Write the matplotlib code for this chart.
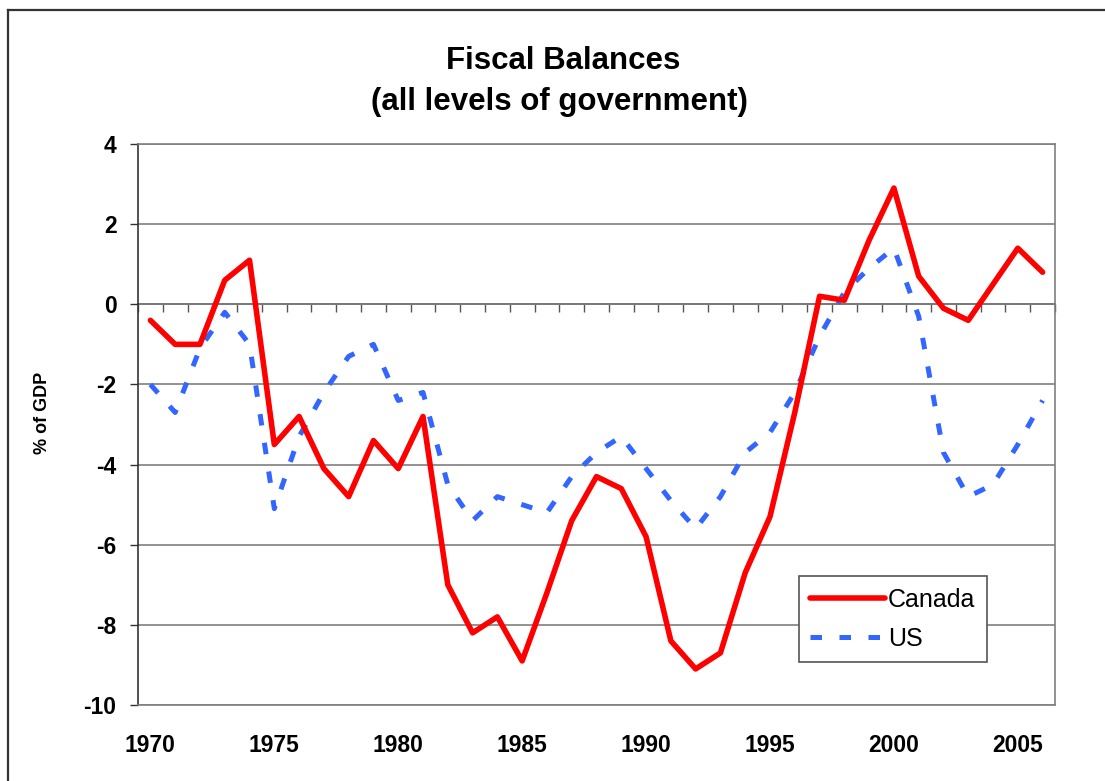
import numpy as np
import matplotlib
matplotlib.use("Agg")
import matplotlib.pyplot as plt
from matplotlib.lines import Line2D

# data (% of GDP)
years = list(range(1970, 2007))
canada = [-0.4, -1.0, -1.0, 0.6, 1.1, -3.5, -2.8, -4.1, -4.8, -3.4,
          -4.1, -2.8, -7.0, -8.2, -7.8, -8.9, -7.2, -5.4, -4.3, -4.6,
          -5.8, -8.4, -9.1, -8.7, -6.7, -5.3, -2.7, 0.2, 0.1, 1.6,
          2.9, 0.7, -0.1, -0.4, 0.5, 1.4, 0.8]
us = [-2.0, -2.7, -1.1, -0.2, -1.0, -5.1, -3.3, -2.2, -1.3, -1.0,
      -2.4, -2.2, -4.5, -5.4, -4.8, -5.0, -5.2, -4.3, -3.7, -3.3,
      -4.1, -4.9, -5.6, -4.8, -3.7, -3.2, -2.2, -0.8, 0.3, 0.9,
      1.4, -0.3, -3.7, -4.8, -4.5, -3.5, -2.4]
year_labels = [1970, 1975, 1980, 1985, 1990, 1995, 2000, 2005]
y_ticks = [-10, -8, -6, -4, -2, 0, 2, 4]

plt.rcParams['font.family'] = ['Liberation Sans', 'DejaVu Sans']

W, H = 1105, 781
fig = plt.figure(figsize=(W / 100, H / 100), dpi=100)
fig.patch.set_facecolor('white')

# plot area in pixels: x 138..1055, y 144..705
ax = fig.add_axes([138 / W, 1 - 705 / H, (1055 - 138) / W, (705 - 144) / H])

ax.plot(years, canada, color='#ff0000', lw=4.0, solid_joinstyle='round',
        solid_capstyle='round', label='Canada', zorder=4)
ax.plot(years, us, color='#3366ff', lw=3.6, linestyle=(0, (2.3, 3.5)),
        label='US', zorder=3)

ax.set_xlim(1969.5, 2006.5)
ax.set_ylim(-10, 4)

# y axis
ax.set_yticks(y_ticks)
ax.set_yticklabels([str(v) for v in y_ticks], fontsize=16.5, fontweight='bold')
ax.tick_params(axis='y', direction='out', length=5.5, width=1.0,
               color='#333333', pad=10)
ax.yaxis.grid(True, color='#7f7f7f', lw=1.2)
ax.set_axisbelow(True)
ax.set_ylabel('% of GDP', fontsize=13, fontweight='bold')
ax.yaxis.set_label_coords(-0.095, 0.52)

# x labels sit at the bottom, without tick marks
ax.set_xticks(year_labels)
ax.set_xticklabels([str(v) for v in year_labels], fontsize=16.5,
                   fontweight='bold')
ax.tick_params(axis='x', length=0, pad=21)

for s in ['top', 'right', 'bottom']:
    ax.spines[s].set_color('#7f7f7f')
    ax.spines[s].set_linewidth(1.2)
ax.spines['left'].set_color('#333333')
ax.spines['left'].set_linewidth(1.2)

# category axis crossing at zero, with tick marks between the years
sec = ax.secondary_xaxis(10 / 14)
sec.set_xticks(np.arange(1969.5, 2007, 1.0))
sec.set_xticklabels([])
sec.tick_params(direction='in', length=6, width=1.0, color='#555555')
sec.spines['top'].set_color('#555555')
sec.spines['top'].set_linewidth(1.3)

# legend
leg = ax.legend(loc='lower left', bbox_to_anchor=(0.721, 0.077),
                borderaxespad=0, fontsize=18, handlelength=3.0,
                handletextpad=0.1, labelspacing=0.6, borderpad=0.45,
                frameon=True, fancybox=False, framealpha=1,
                edgecolor='#555555')
leg.get_frame().set_linewidth(1.2)
leg.set_zorder(10)

# titles
fig.text(563 / W, 1 - 69 / H, 'Fiscal Balances', ha='center', va='baseline',
         fontsize=22.5, fontweight='bold')
fig.text(559 / W, 1 - 110 / H, '(all levels of government)', ha='center',
         va='baseline', fontsize=22.5, fontweight='bold')

# chart border (only left and top edges visible in the crop)
x0, y0 = 7.5 / W, 1 - 9.5 / H
fig.add_artist(Line2D([x0, x0], [0, y0], color='#333333', lw=1.6))
fig.add_artist(Line2D([x0, 1], [y0, y0], color='#333333', lw=1.6))

fig.savefig('out.png', dpi=100)
